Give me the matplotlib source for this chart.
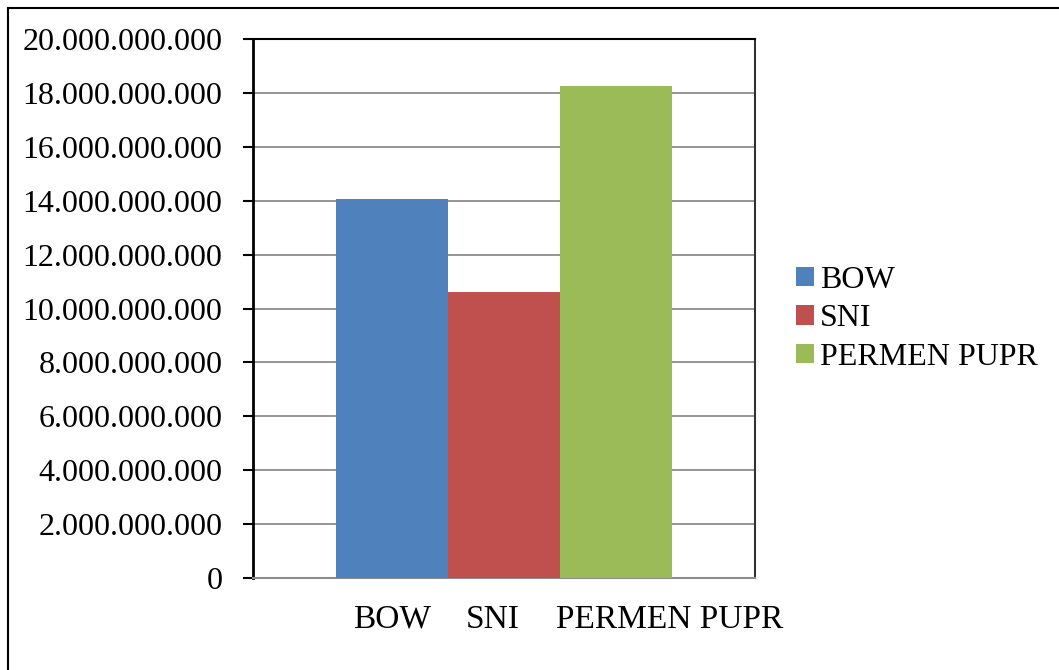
import matplotlib.pyplot as plt
from matplotlib.lines import Line2D
from matplotlib.ticker import FuncFormatter

series = ['BOW', 'SNI', 'PERMEN PUPR']
values = [14060000000, 10610000000, 18260000000]
colors = ['#4F81BD', '#C0504D', '#9BBB59']
yticks = [0, 2e9, 4e9, 6e9, 8e9, 10e9, 12e9, 14e9, 16e9, 18e9, 20e9]

plt.rcParams['font.family'] = ['Liberation Serif', 'DejaVu Serif']

fig = plt.figure(figsize=(10.59, 6.70), dpi=100)
ax = fig.add_axes([0.2389, 0.1373, 0.474, 0.8045])

x = list(range(len(series)))
for i in range(len(series)):
    ax.bar(x[i], values[i], width=1.0, color=colors[i], label=series[i], zorder=3)

ax.set_xlim(1 - 2.24, 1 + 2.24)
ax.set_ylim(0, 20e9)
ax.set_yticks(yticks)
ax.yaxis.set_major_formatter(FuncFormatter(lambda v, p: f'{int(v):,}'.replace(',', '.')))
ax.grid(axis='y', color='#8c8c8c', linewidth=1.3, zorder=0)
ax.tick_params(axis='y', length=7, width=1.5, pad=15, labelsize=23, color='black')

# category labels under the bars
ax.set_xticks([x[0], x[1] - 0.1, x[2] - 0.535])
ax.set_xticklabels(series, fontsize=24)
ax.tick_params(axis='x', length=0, pad=19)
labs = ax.get_xticklabels()
labs[2].set_ha('left')

ax.spines['left'].set_linewidth(2)
ax.spines['left'].set_color('black')
ax.spines['top'].set_linewidth(1.5)
ax.spines['right'].set_linewidth(1.5)
ax.spines['right'].set_color('#333333')
ax.spines['bottom'].set_color('#8c8c8c')
ax.spines['bottom'].set_linewidth(1.5)

ax.legend(loc='center left', bbox_to_anchor=(1.082, 0.481), frameon=False,
          fontsize=23, handlelength=0.55, handleheight=0.55,
          handletextpad=0.2, labelspacing=0.3, borderaxespad=0, borderpad=0)

# outer frame (left and top edges)
fig.add_artist(Line2D([8 / 1059, 8 / 1059], [0, 1 - 8 / 670], color='black', linewidth=1.5,
                      transform=fig.transFigure))
fig.add_artist(Line2D([8 / 1059, 1], [1 - 8 / 670, 1 - 8 / 670], color='black', linewidth=1.5,
                      transform=fig.transFigure))

plt.savefig('out.png', dpi=100)
